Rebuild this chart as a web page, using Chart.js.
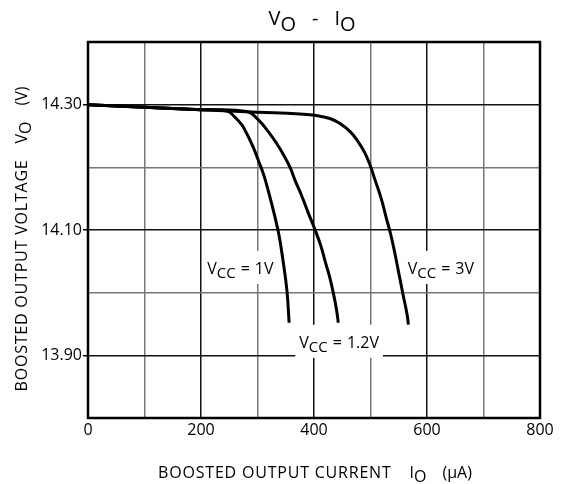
<!DOCTYPE html>
<html>
<head>
<meta charset="utf-8">
<script src="https://cdn.jsdelivr.net/npm/chart.js@4"></script>
<style>
  html, body { margin: 0; padding: 0; background: #fff; }
  #wrap { width: 564px; height: 484px; }
</style>
</head>
<body>
<div id="wrap"><canvas id="c"></canvas></div>
<script>
// values
const xTicks = [0, 200, 400, 600, 800];
const yTicks = [13.90, 14.10, 14.30];

const io_1V = [0, 100, 200, 246, 260, 272, 282, 292, 301, 311, 321, 330, 338, 345, 352, 356];
const vo_1V = [14.300, 14.296, 14.292, 14.290, 14.280, 14.268, 14.252, 14.233, 14.212, 14.188, 14.156, 14.124, 14.092, 14.052, 14.004, 13.952];

const io_12V = [0, 100, 200, 281, 301, 319, 334, 346, 358, 367, 378, 390, 402, 412, 420, 428, 435, 440, 443];
const vo_12V = [14.300, 14.296, 14.292, 14.289, 14.276, 14.257, 14.238, 14.220, 14.199, 14.178, 14.155, 14.127, 14.100, 14.075, 14.049, 14.024, 13.996, 13.972, 13.952];

const io_3V = [0, 100, 200, 300, 375, 402, 428, 446, 464, 478, 490, 499, 508, 519, 528, 536, 544, 551, 558, 565, 567];
const vo_3V = [14.300, 14.296, 14.292, 14.288, 14.285, 14.283, 14.278, 14.270, 14.257, 14.241, 14.223, 14.204, 14.180, 14.150, 14.119, 14.092, 14.059, 14.027, 13.995, 13.964, 13.949];

// curve labels: text, left edge (uA) and baseline (V)
const curveLabels = [
  { v: '1V', io: 211, vo: 14.030 },
  { v: '1.2V', io: 374, vo: 13.912 },
  { v: '3V', io: 566, vo: 14.030 },
];

const FONT = '"Open Sans", "DejaVu Sans", sans-serif';

function pts(xs, ys) {
  return xs.map((x, i) => ({ x: x, y: ys[i] }));
}

function curve(label, xs, ys) {
  return {
    label: label,
    data: pts(xs, ys),
    showLine: true,
    borderColor: '#000',
    borderWidth: 3,
    pointRadius: 0,
    tension: 0.45,
  };
}

function measureParts(ctx, parts) {
  let w = 0;
  parts.forEach(p => {
    ctx.font = p.size + 'px ' + FONT;
    ctx.letterSpacing = (p.ls || 0) + 'px';
    p.w = ctx.measureText(p.t).width;
    w += p.w + (p.gap || 0);
  });
  ctx.letterSpacing = '0px';
  return w;
}

// draw text made of parts, some of them lowered like subscripts
function drawParts(ctx, parts, x, y, align) {
  const w = measureParts(ctx, parts);
  let cx = align === 'center' ? x - w / 2 : x;
  ctx.textAlign = 'left';
  ctx.textBaseline = 'alphabetic';
  parts.forEach(p => {
    ctx.font = p.size + 'px ' + FONT;
    ctx.letterSpacing = (p.ls || 0) + 'px';
    cx += (p.gap || 0);
    ctx.fillText(p.t, cx, y + (p.dy || 0));
    cx += p.w;
  });
  ctx.letterSpacing = '0px';
  return w;
}

function vccLabel(value) {
  return [
    { t: 'V', size: 16 },
    { t: 'CC', size: 15, dy: 4 },
    { t: '=', size: 16, gap: 5 },
    { t: value, size: 16, gap: 5 },
  ];
}

const annotations = {
  id: 'annotations',
  beforeDatasetsDraw(chart) {
    // white boxes behind the curve labels, hiding the grid
    const ctx = chart.ctx;
    const xs = chart.scales.x, ys = chart.scales.y;
    ctx.save();
    ctx.fillStyle = '#fff';
    curveLabels.forEach(l => {
      const px = xs.getPixelForValue(l.io);
      const py = ys.getPixelForValue(l.vo);
      const w = measureParts(ctx, vccLabel(l.v));
      ctx.fillRect(px - 4, py - 23, w + 8, 33);
    });
    ctx.restore();
  },
  afterDatasetsDraw(chart) {
    const ctx = chart.ctx;
    const xs = chart.scales.x, ys = chart.scales.y;
    const a = chart.chartArea;
    ctx.save();
    ctx.fillStyle = '#000';

    curveLabels.forEach(l => {
      drawParts(ctx, vccLabel(l.v), xs.getPixelForValue(l.io), ys.getPixelForValue(l.vo), 'left');
    });

    // frame
    ctx.strokeStyle = '#000';
    ctx.lineWidth = 2.5;
    ctx.strokeRect(a.left, a.top, a.right - a.left, a.bottom - a.top);

    // title
    drawParts(ctx, [
      { t: 'V', size: 20 },
      { t: 'O', size: 20, dy: 6 },
      { t: '-', size: 20, gap: 16 },
      { t: 'I', size: 20, gap: 16 },
      { t: 'O', size: 20, dy: 6 },
    ], (a.left + a.right) / 2 - 2, 25, 'center');

    // x axis title
    drawParts(ctx, [
      { t: 'BOOSTED OUTPUT CURRENT', size: 16, ls: 0.8 },
      { t: 'I', size: 16, gap: 18 },
      { t: 'O', size: 16, dy: 4 },
      { t: '(\u03bcA)', size: 16, gap: 16 },
    ], 315, 478, 'center');

    // y axis title
    ctx.translate(27, 239);
    ctx.rotate(-Math.PI / 2);
    drawParts(ctx, [
      { t: 'BOOSTED OUTPUT VOLTAGE', size: 16, ls: 0.8 },
      { t: 'V', size: 16, gap: 16 },
      { t: 'O', size: 16, dy: 4 },
      { t: '(V)', size: 16, gap: 16 },
    ], 0, 0, 'center');
    ctx.restore();
  }
};

new Chart(document.getElementById('c'), {
  type: 'scatter',
  data: {
    datasets: [
      curve('VCC = 1V', io_1V, vo_1V),
      curve('VCC = 1.2V', io_12V, vo_12V),
      curve('VCC = 3V', io_3V, vo_3V),
    ],
  },
  options: {
    responsive: true,
    maintainAspectRatio: false,
    animation: false,
    layout: { padding: { top: 42, right: 24 } },
    plugins: {
      legend: { display: false },
      tooltip: { enabled: false },
    },
    scales: {
      x: {
        type: 'linear',
        min: 0,
        max: 800,
        ticks: {
          stepSize: 100,
          color: '#000',
          font: { family: FONT, size: 16 },
          padding: 3,
          maxRotation: 0,
          callback: v => xTicks.includes(v) ? String(v) : '',
        },
        grid: {
          drawTicks: false,
          lineWidth: 1.5,
          color: c => (c.tick && c.tick.value % 200 === 0) ? '#111' : '#777',
        },
        border: { display: false },
        afterFit: s => { s.height = 66; },
      },
      y: {
        type: 'linear',
        min: 13.8,
        max: 14.4,
        ticks: {
          stepSize: 0.1,
          color: '#000',
          font: { family: FONT, size: 16 },
          padding: 1,
          callback: v => {
            const r = Math.round(v * 100) / 100;
            return yTicks.some(t => Math.abs(t - r) < 1e-6) ? r.toFixed(2) : '';
          },
        },
        grid: {
          lineWidth: 1.5,
          tickLength: 5,
          color: c => {
            const v = Math.round(c.tick.value * 10);
            return (v % 2 === 1) ? '#111' : '#777';
          },
          tickColor: c => {
            const v = Math.round(c.tick.value * 10);
            return (v % 2 === 1) ? '#000' : 'rgba(0,0,0,0)';
          },
        },
        border: { display: false },
        afterFit: s => { s.width = 88; },
      },
    },
  },
  plugins: [annotations],
});
</script>
</body>
</html>
